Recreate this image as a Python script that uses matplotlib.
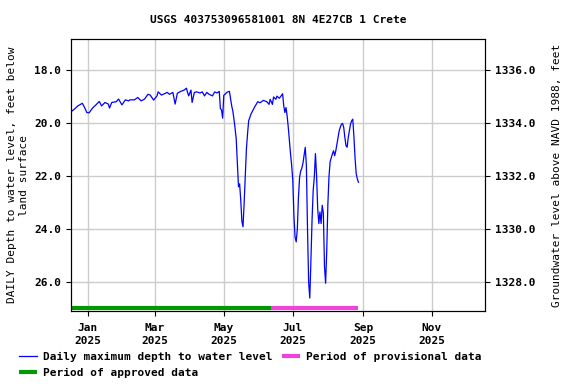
import numpy as np
import pandas as pd
import matplotlib
matplotlib.use("Agg")
import matplotlib.pyplot as plt
import matplotlib.dates as mdates

# daily max depth to water (feet below land surface), day offsets from 2025-01-01
day_offset = [-15, -12, -9, -5, -3, -1, 1, 4, 7, 10, 12, 15, 18, 19, 21, 25, 27, 30,
              33, 36, 37, 41, 44, 47, 50, 53, 55, 58, 61, 62, 65, 70, 72, 75, 77, 79,
              82, 85, 87, 88, 89, 91, 92, 94, 96, 99, 101, 103, 105, 107, 110, 112,
              114, 116, 117, 118, 119, 120, 123, 125, 127, 128, 129, 130, 131, 132,
              133, 134, 135, 136, 137, 138, 139, 140, 141, 142, 144, 147, 150, 152,
              155, 158, 160, 161, 163, 164, 166, 167, 169, 170, 172, 173, 174, 175,
              176, 177, 178, 179, 180, 181, 182, 183, 184, 185, 186, 187, 188, 189,
              190, 191, 192, 193, 194, 195, 196, 197, 198, 199, 200, 201, 202, 203,
              204, 205, 206, 207, 208, 209, 210, 211, 212, 213, 214, 215, 216, 217,
              218, 219, 220, 221, 222, 223, 224, 225, 226, 227, 228, 229, 230, 231,
              232, 233, 234, 235, 236, 237, 238, 239]
depth = [19.57, 19.47, 19.35, 19.25, 19.41, 19.60, 19.61, 19.43, 19.31, 19.18, 19.35,
         19.22, 19.28, 19.43, 19.22, 19.19, 19.09, 19.31, 19.12, 19.16, 19.12, 19.12,
         19.03, 19.16, 19.09, 18.91, 18.94, 19.13, 18.97, 18.82, 18.94, 18.84, 18.91,
         18.84, 19.28, 18.87, 18.80, 18.75, 18.68, 18.84, 18.97, 18.75, 19.22, 18.84,
         18.82, 18.86, 18.82, 18.97, 18.84, 18.91, 18.97, 18.82, 18.86, 18.80, 19.45,
         19.50, 19.81, 18.95, 18.83, 18.80, 19.35, 19.54, 19.85, 20.20, 20.60, 21.50,
         22.40, 22.29, 22.91, 23.70, 23.91, 23.00, 22.00, 20.98, 20.40, 19.91, 19.66,
         19.41, 19.19, 19.23, 19.14, 19.19, 19.29, 19.10, 19.29, 19.01, 19.10, 18.98,
         19.06, 19.01, 18.89, 19.35, 19.60, 19.41, 19.73, 20.16, 20.66, 21.16, 21.60,
         22.16, 23.50, 24.30, 24.48, 24.00, 22.79, 22.04, 21.80, 21.70, 21.50, 21.20,
         20.91, 21.60, 24.00, 26.00, 26.60, 25.20, 23.66, 22.54, 22.04, 21.15, 21.98,
         23.23, 23.79, 23.35, 23.79, 23.10, 23.40, 25.41, 26.04, 24.80, 23.04, 22.00,
         21.45, 21.30, 21.16, 21.04, 21.23, 21.04, 20.79, 20.54, 20.29, 20.15, 20.04,
         20.01, 20.16, 20.54, 20.85, 20.91, 20.54, 20.29, 20.04, 19.91, 19.85, 20.50,
         21.30, 21.90, 22.10, 22.23]

approved_start, approved_end = "2024-12-17", "2025-06-12"
provisional_start, provisional_end = "2025-06-12", "2025-08-28"
datum_offset = 1354.0  # land surface elevation, NAVD 1988

dates = pd.Timestamp("2025-01-01") + pd.to_timedelta(day_offset, unit="D")

plt.rcParams["font.family"] = "DejaVu Sans Mono"
plt.rcParams["font.weight"] = "bold"
plt.rcParams["font.size"] = 8

fig = plt.figure(figsize=(5.76, 3.84), dpi=100)
ax = fig.add_axes([0.1233, 0.190, 0.719, 0.708])

ax.plot(dates, depth, color="#0000ff", lw=0.9,
        label="Daily maximum depth to water level")
bar_y = 26.98
ax.plot(pd.to_datetime([approved_start, approved_end]), [bar_y, bar_y],
        color="#009900", lw=3, solid_capstyle="butt", label="Period of approved data")
ax.plot(pd.to_datetime([provisional_start, provisional_end]), [bar_y, bar_y],
        color="#ee44dd", lw=3, solid_capstyle="butt", label="Period of provisional data")

ylim = (27.09, 16.83)
ax.set_ylim(ylim)
ax.set_xlim(pd.Timestamp("2024-12-17"), pd.Timestamp("2025-12-18"))
ax.set_yticks([18, 20, 22, 24, 26])
ax.yaxis.set_major_formatter(matplotlib.ticker.FormatStrFormatter("%.1f"))
ax.xaxis.set_major_locator(mdates.MonthLocator(bymonth=[1, 3, 5, 7, 9, 11]))
ax.xaxis.set_major_formatter(mdates.DateFormatter("%b\n%Y"))
for lab in ax.get_xticklabels():
    lab.set_linespacing(1.4)
ax.tick_params(axis="x", pad=5)
ax.grid(True, color="#cccccc", lw=1)
ax.set_axisbelow(True)
ax.set_ylabel("DAILY Depth to water level, feet below\nland surface")
ax.set_title("USGS 403753096581001 8N 4E27CB 1 Crete", fontsize=8, fontweight="bold", pad=12)

ax2 = ax.twinx()
ax2.set_ylim(datum_offset - ylim[0], datum_offset - ylim[1])
ax2.set_yticks([1328, 1330, 1332, 1334, 1336])
ax2.yaxis.set_major_formatter(matplotlib.ticker.FormatStrFormatter("%.1f"))
ax2.set_ylabel("Groundwater level above NAVD 1988, feet", labelpad=12)

h, l = ax.get_legend_handles_labels()
fig.legend(h, l, loc="upper left", bbox_to_anchor=(0.026, 0.095), ncol=2,
           frameon=False, handlelength=1.6, handletextpad=0.5, columnspacing=0.9,
           labelspacing=0.55, borderaxespad=0)

fig.savefig("out.png", dpi=100)
